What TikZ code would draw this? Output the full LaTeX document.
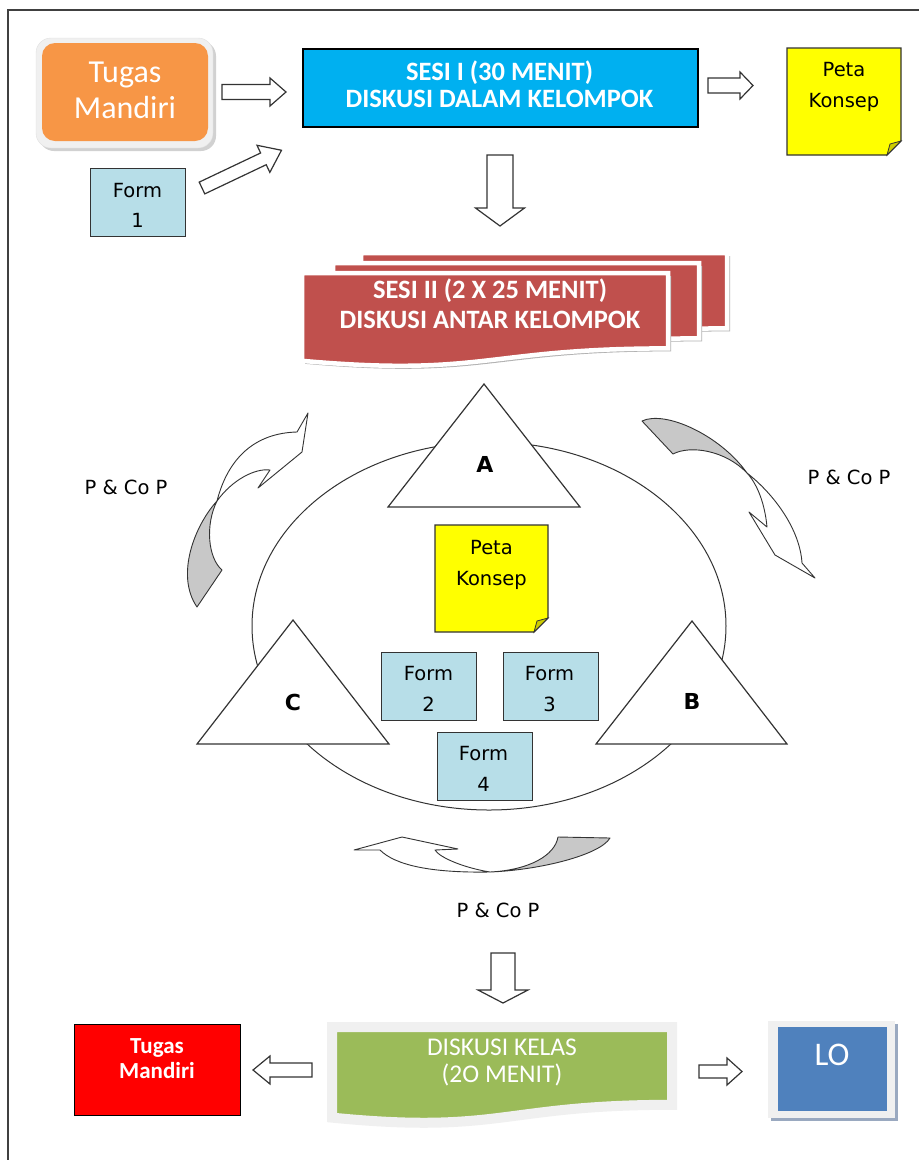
\documentclass[tikz,border=0pt]{standalone}
\usepackage{fontspec}
\setmainfont{Carlito}
\newfontfamily\vfont{DejaVu Sans}
\usetikzlibrary{calc}
\definecolor{orangeT}{HTML}{F79646}
\definecolor{sesiblue}{HTML}{00B0F0}
\definecolor{formblue}{HTML}{B7DEE8}
\definecolor{noteyel}{HTML}{FFFF00}
\definecolor{foldyel}{HTML}{CDCD00}
\definecolor{sesired}{HTML}{C0504D}
\definecolor{greenD}{HTML}{9BBB59}
\definecolor{loblue}{HTML}{4F81BD}
\definecolor{loshadow}{HTML}{9AA9C0}
\definecolor{grayf}{HTML}{C8C8C8}
\definecolor{framegray}{HTML}{F0F0F0}
\definecolor{linec}{HTML}{333333}
\newcommand\blkarrow[6]{\path[barrow, shift={(#1)}, rotate=#2] (0,-#4) -- ({#3-#6},-#4) -- ({#3-#6},-#5) -- (#3,0) -- ({#3-#6},#5) -- ({#3-#6},#4) -- (0,#4) -- cycle;}
\newcommand\docshape[5]{\path[#1] (#2,#3) -- ({#2+#4},#3) -- ({#2+#4},{#3+0.802*#5}) .. controls ({#2+0.5*#4},{#3+0.802*#5}) and ({#2+0.5*#4},{#3+1.107*#5}) .. (#2,{#3+0.934*#5}) -- cycle;}
\begin{document}
\begin{tikzpicture}[x=1pt,y=-1pt,
  txt/.style={anchor=base, inner sep=0},
  vtxt/.style={txt, font=\vfont\fontsize{19.5}{22}\selectfont, text=black},
  abc/.style={txt, font=\vfont\bfseries\fontsize{22}{24}\selectfont, text=black},
  wbold/.style={txt, font=\bfseries\fontsize{26.5}{28}\selectfont, text=white},
  formbox/.style={draw=linec, line width=1.3, fill=formblue, anchor=north west, inner sep=0, minimum width=95, minimum height=68},
  barrow/.style={draw=linec, fill=white, line width=1.2, line join=miter},
  carrow/.style={draw=linec, fill=white, line width=0.9, line join=round},
  note/.style={draw=linec, line width=1.2, fill=noteyel},
  fold/.style={draw=linec, line width=0.8, fill=foldyel},
  tri/.style={draw=linec, line width=1.2, fill=white},
  docshadow/.style={fill=black!30},
  docframe/.style={draw=white, line width=4.5, fill=sesired},
]
\useasboundingbox (0,0) rectangle (919,1160);
\fill[white] (0,0) rectangle (919,1160);
% page frame
\draw[line width=1.6, black!75] (8,1160) -- (8,10) -- (919,10);

% ---- top row ----
\path[fill=black!18, rounded corners=15] (39,41) rectangle (216,151);
\path[fill=framegray, draw=black!12, rounded corners=15] (36,38) rectangle (213,148);
\path[fill=orangeT, rounded corners=13] (42,43) rectangle (208,141);
\node[txt, font=\fontsize{32}{34}\selectfont, text=white] (tm1a) at (125,82) {Tugas};
\node[txt, font=\fontsize{32}{34}\selectfont, text=white] (tm1b) at (125,118) {Mandiri};

\node[formbox] (form1) at (90,168) {};
\node[vtxt] (f1a) at (137.5,197) {Form};
\node[vtxt] (f1b) at (137.5,227) {1};

\node[draw=black, line width=1.5, fill=sesiblue, anchor=north west, inner sep=0, minimum width=395, minimum height=78] (sesi1) at (302,48) {};
\node[wbold] (s1a) at (499.5,80) {SESI I (30 MENIT)};
\node[wbold] (s1b) at (499.5,107) {DISKUSI DALAM KELOMPOK};

\path[note] (787,48) -- (901,48) -- (901,141) -- (887,155) -- (787,155) -- cycle;
\path[fold] (887,155) -- (890,144) -- (901,141) -- cycle;
\node[vtxt] (pk1a) at (844,76) {Peta};
\node[vtxt] (pk1b) at (844,107) {Konsep};

% block arrows top
\coordinate (a1) at (222,92);
\coordinate (a2) at (202,188);
\coordinate (a3) at (708,85.5);
\coordinate (a4) at (500,155);
\blkarrow{a1}{0}{64}{7.5}{14}{16}
\blkarrow{a2}{25.4}{88}{6.5}{15}{20}
\blkarrow{a3}{0}{45}{7.5}{13.5}{13}
\blkarrow{a4}{-90}{71}{13}{24.5}{18}

% ---- SESI II stacked documents ----
\docshape{docshadow}{364}{256}{366}{94}
\docshape{docframe}{361}{253}{366}{94}
\docshape{docshadow}{336}{266}{366}{94}
\docshape{docframe}{333}{263}{366}{94}
\docshape{docshadow}{305}{276}{366}{94}
\docshape{docframe}{302}{273}{366}{94}
\node[wbold] (s2a) at (490,298) {SESI II (2 X 25 MENIT)};
\node[wbold] (s2b) at (490,328) {DISKUSI ANTAR KELOMPOK};

% ---- circle of groups ----
\draw[linec, line width=1] (489,626) ellipse [x radius=237pt, y radius=184pt];
\path[tri] (484,384) -- (580,507) -- (388,507) -- cycle;
\path[tri] (293,620) -- (389,744) -- (197,744) -- cycle;
\path[tri] (692,621) -- (787,744) -- (596,744) -- cycle;
\node[abc] (ga) at (485,472) {A};
\node[abc] (gc) at (293,710) {C};
\node[abc] (gb) at (692,709) {B};

\path[note] (435,525) -- (548,525) -- (548,618) -- (534,632) -- (435,632) -- cycle;
\path[fold] (534,632) -- (537,621) -- (548,618) -- cycle;
\node[vtxt] (pk2a) at (491.5,554) {Peta};
\node[vtxt] (pk2b) at (491.5,585) {Konsep};

\node[formbox] (form2) at (381,652) {};
\node[vtxt] (f2a) at (428.5,680) {Form};
\node[vtxt] (f2b) at (428.5,711) {2};
\node[formbox] (form3) at (503,652) {};
\node[vtxt] (f3a) at (549.5,680) {Form};
\node[vtxt] (f3b) at (549.5,711) {3};
\node[formbox] (form4) at (437,732) {};
\node[vtxt] (f4a) at (483.5,760) {Form};
\node[vtxt] (f4b) at (483.5,791) {4};

% ---- curved arrows ----
% left (upward)
\path[carrow, fill=grayf] (217,501) .. controls (195,525) and (175,575) .. (197,607) -- (222,570) .. controls (208,558) and (205,525) .. (217,501) -- cycle;
\path[carrow] (217,501) .. controls (228,458) and (255,433) .. (297,432) -- (308,413) -- (302,452) -- (258,488) -- (270,470) .. controls (255,468) and (232,480) .. (217,501) -- cycle;
% right (downward)
\path[carrow, fill=grayf] (642,421) .. controls (665,410) and (720,435) .. (747,473) .. controls (725,450) and (690,445) .. (673,454) -- cycle;
\path[carrow] (747,473) .. controls (775,495) and (800,530) .. (802,563) -- (815,578) -- (775,555) -- (749,512) -- (767,527) .. controls (765,505) and (758,485) .. (747,473) -- cycle;
% bottom (leftward)
\path[carrow, fill=grayf] (490,872) .. controls (540,870) and (600,855) .. (610,838) -- (558,837) .. controls (555,855) and (530,870) .. (490,872) -- cycle;
\path[carrow] (380,850) .. controls (395,865) and (430,873) .. (490,872) .. controls (465,868) and (440,858) .. (435,850) -- (458,849) -- (402,837) -- (354,850) -- cycle;

\node[vtxt] (pc1) at (126,494) {P \& Co P};
\node[vtxt] (pc2) at (849,484) {P \& Co P};
\node[vtxt] (pc3) at (498,917) {P \& Co P};

% ---- bottom row ----
\coordinate (a5) at (503,953);
\coordinate (a6) at (312,1070);
\coordinate (a7) at (699,1071.5);
\blkarrow{a5}{-90}{50}{12}{25}{13}
\blkarrow{a6}{180}{59}{7}{14}{17}
\blkarrow{a7}{0}{43}{6.5}{13.5}{15}

\node[draw=black, line width=1.3, fill=red, anchor=north west, inner sep=0, minimum width=166, minimum height=91] (tm2) at (74,1024) {};
\node[txt, font=\bfseries\fontsize{23}{26}\selectfont, text=white] (tm2a) at (157,1053) {Tugas};
\node[txt, font=\bfseries\fontsize{23}{26}\selectfont, text=white] (tm2b) at (157,1078) {Mandiri};

\docshape{fill=black!25}{335}{1030}{340}{97}
\docshape{draw=framegray, line width=10, fill=greenD}{332}{1027}{340}{97}
\node[txt, font=\fontsize{25.5}{28}\selectfont, text=white] (dk1) at (502,1055) {DISKUSI KELAS};
\node[txt, font=\fontsize{25.5}{28}\selectfont, text=white] (dk2) at (502,1082) {(2O MENIT)};

\fill[loshadow] (771,1024) rectangle (898,1121);
\fill[framegray] (768,1021) rectangle (895,1118);
\node[fill=loblue, anchor=north west, inner sep=0, minimum width=109, minimum height=84] (lo) at (778,1027) {};
\node[txt, font=\fontsize{33}{36}\selectfont, text=white] (lot) at (832,1065) {LO};
\end{tikzpicture}
\end{document}
